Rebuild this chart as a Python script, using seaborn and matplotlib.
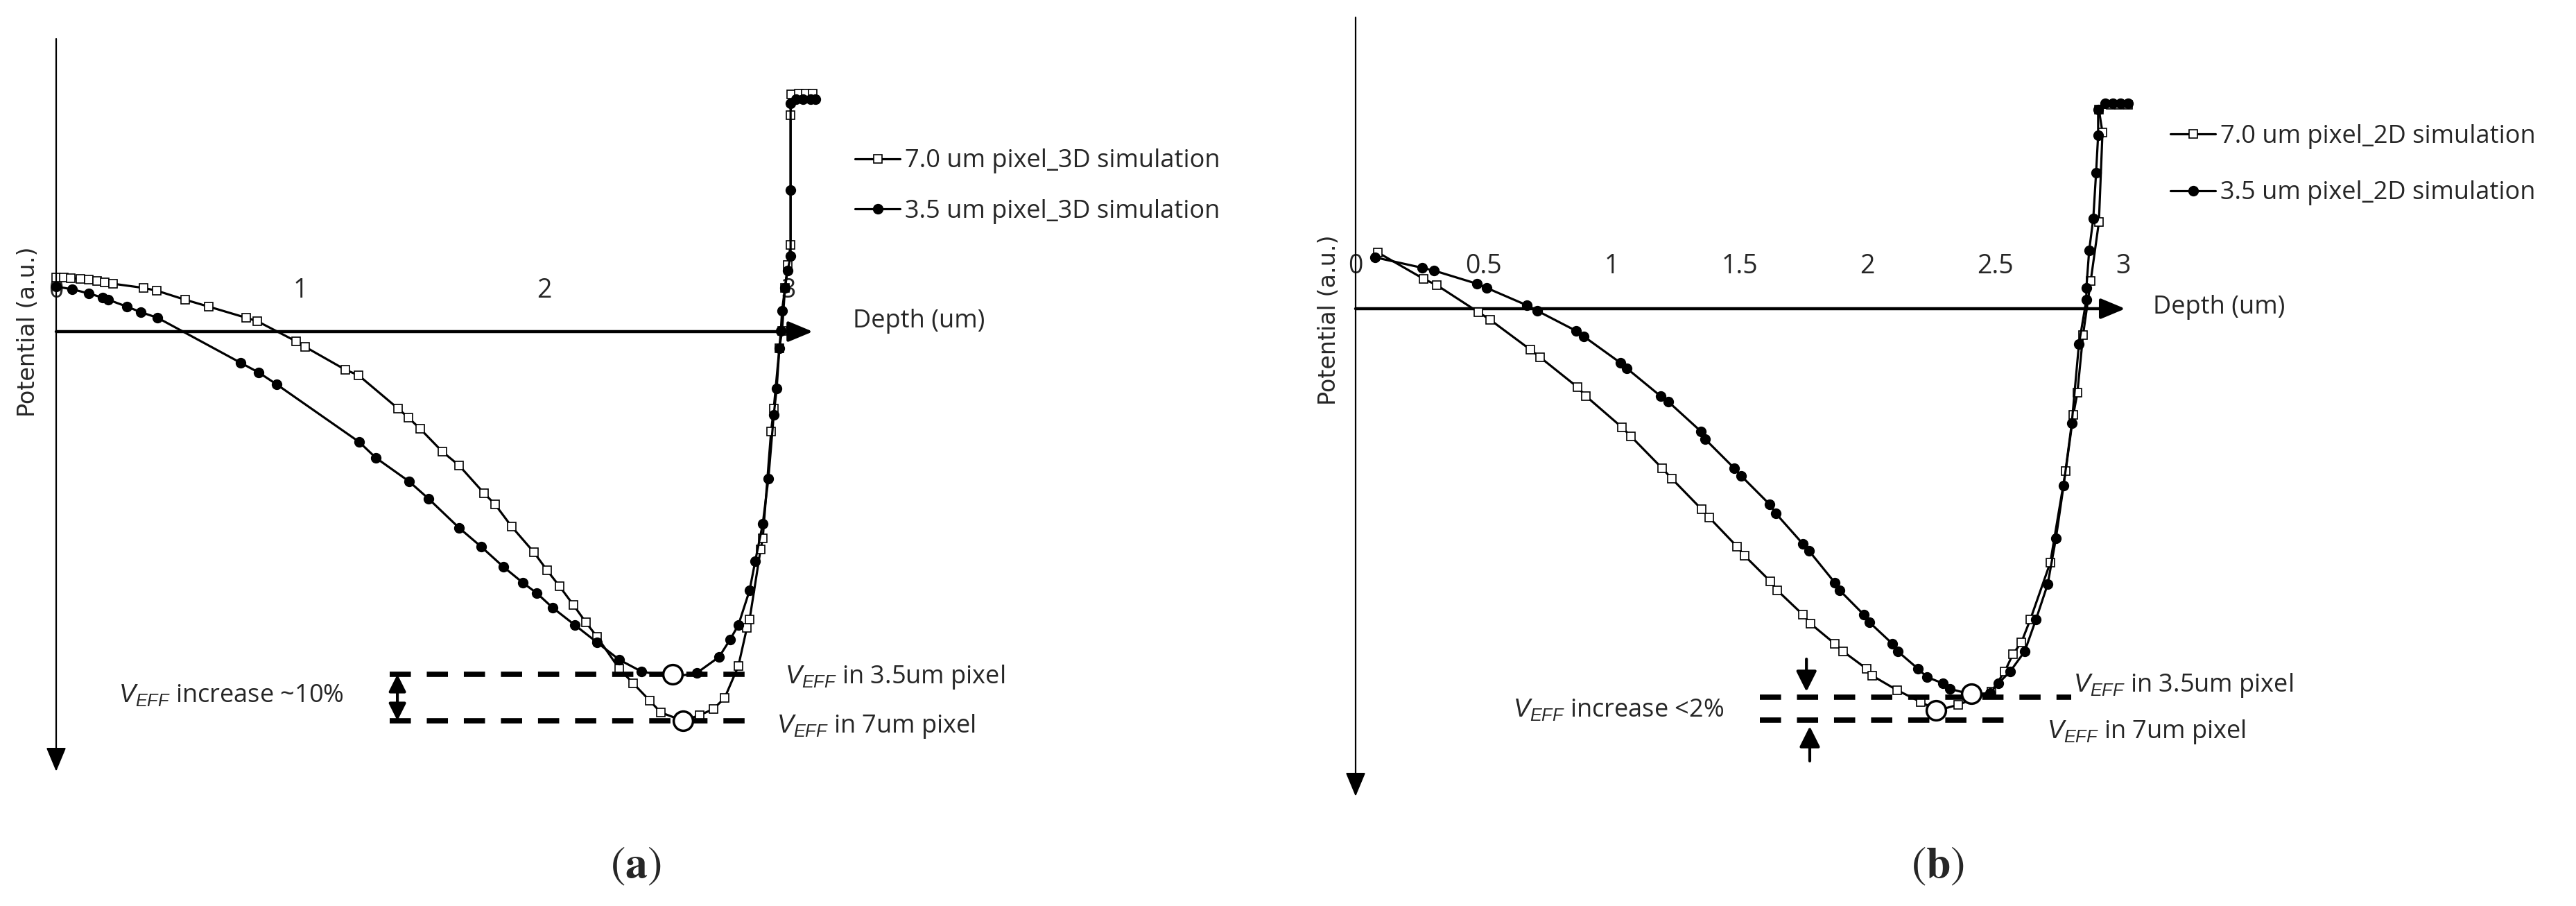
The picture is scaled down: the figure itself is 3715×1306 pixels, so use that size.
import matplotlib
matplotlib.use("Agg")
import matplotlib.pyplot as plt
import seaborn as sns

# ---- data (depth in um, potential in a.u., positive = down) ----
# panel (a): 3D simulation
depth_a_7um = [0.000, 0.030, 0.060, 0.100, 0.134, 0.168, 0.200, 0.233, 0.358, 0.412, 0.528,
               0.625, 0.778, 0.824, 0.983, 1.020, 1.185, 1.239, 1.401, 1.443, 1.491, 1.582,
               1.651, 1.753, 1.798, 1.866, 1.957, 2.011, 2.062, 2.119, 2.170, 2.216, 2.307,
               2.364, 2.432, 2.477, 2.568, 2.636, 2.693, 2.739, 2.795, 2.830, 2.841, 2.886,
               2.895, 2.929, 2.940, 2.963, 2.974, 2.986, 2.997, 3.009, 3.009, 3.012, 3.043,
               3.071, 3.099]
pot_a_7um = [-0.78, -0.78, -0.77, -0.76, -0.75, -0.73, -0.71, -0.69, -0.63, -0.59, -0.46,
             -0.36, -0.20, -0.15, 0.14, 0.22, 0.55, 0.63, 1.11, 1.24, 1.40, 1.73,
             1.93, 2.33, 2.49, 2.81, 3.18, 3.44, 3.67, 3.94, 4.19, 4.40, 4.86,
             5.07, 5.32, 5.49, 5.61, 5.53, 5.44, 5.28, 4.82, 4.27, 4.15, 3.14,
             2.98, 1.44, 1.11, 0.24, -0.01, -0.63, -0.96, -1.25, -3.12, -3.42, -3.43,
             -3.43, -3.43]

depth_a_35um = [0.000, 0.065, 0.134, 0.190, 0.213, 0.290, 0.347, 0.415, 0.756, 0.830, 0.903,
                1.241, 1.310, 1.446, 1.526, 1.651, 1.741, 1.832, 1.912, 1.969, 2.034, 2.125,
                2.216, 2.307, 2.398, 2.526, 2.625, 2.716, 2.761, 2.795, 2.841, 2.864, 2.895,
                2.918, 2.940, 2.952, 2.963, 2.969, 2.974, 2.986, 2.997, 3.009, 3.009, 3.009,
                3.031, 3.060, 3.090, 3.110]
pot_a_35um = [-0.65, -0.61, -0.55, -0.49, -0.46, -0.36, -0.28, -0.20, 0.45, 0.59, 0.76,
              1.59, 1.82, 2.16, 2.41, 2.83, 3.10, 3.39, 3.62, 3.77, 3.98, 4.23,
              4.48, 4.73, 4.90, 4.98, 4.92, 4.69, 4.44, 4.23, 3.73, 3.31, 2.77,
              2.12, 1.20, 0.82, 0.24, -0.01, -0.30, -0.63, -0.88, -1.09, -2.04, -3.29,
              -3.35, -3.35, -3.35, -3.35]

# panel (b): 2D simulation
depth_b_7um = [0.087, 0.266, 0.317, 0.480, 0.526, 0.683, 0.721, 0.867, 0.900, 1.041, 1.076,
               1.198, 1.236, 1.352, 1.382, 1.491, 1.520, 1.621, 1.648, 1.748, 1.778, 1.873,
               1.905, 1.997, 2.019, 2.117, 2.209, 2.274, 2.355, 2.485, 2.537, 2.569, 2.602,
               2.637, 2.715, 2.775, 2.805, 2.821, 2.843, 2.873, 2.905, 2.919, 2.905, 2.951,
               2.985, 3.019]
pot_b_7um = [-0.81, -0.43, -0.34, 0.05, 0.16, 0.59, 0.70, 1.13, 1.26, 1.71, 1.84,
             2.30, 2.45, 2.89, 3.01, 3.43, 3.56, 3.93, 4.06, 4.41, 4.54, 4.83,
             4.94, 5.19, 5.29, 5.50, 5.67, 5.79, 5.71, 5.52, 5.23, 4.98, 4.81,
             4.48, 3.66, 2.34, 1.53, 1.21, 0.38, -0.40, -1.25, -2.54, -2.87, -2.94,
             -2.94, -2.94]

depth_b_35um = [0.076, 0.260, 0.306, 0.474, 0.512, 0.669, 0.710, 0.862, 0.892, 1.035, 1.060,
                1.192, 1.222, 1.350, 1.366, 1.480, 1.507, 1.618, 1.642, 1.748, 1.772, 1.873,
                1.892, 1.986, 2.008, 2.098, 2.119, 2.198, 2.233, 2.295, 2.322, 2.407, 2.480,
                2.512, 2.558, 2.615, 2.659, 2.705, 2.737, 2.767, 2.799, 2.827, 2.856, 2.856,
                2.867, 2.883, 2.894, 2.902, 2.902, 2.930, 2.960, 2.990, 3.019]
pot_b_35um = [-0.74, -0.59, -0.55, -0.36, -0.30, -0.05, 0.03, 0.32, 0.40, 0.78, 0.86,
              1.26, 1.34, 1.77, 1.88, 2.30, 2.41, 2.82, 2.95, 3.39, 3.49, 3.95,
              4.06, 4.41, 4.52, 4.83, 4.94, 5.19, 5.31, 5.40, 5.48, 5.56, 5.54,
              5.40, 5.23, 4.94, 4.48, 3.97, 3.31, 2.55, 1.65, 0.51, -0.13, -0.30,
              -0.84, -1.30, -1.96, -2.50, -2.87, -2.96, -2.96, -2.96, -2.96]

# V_EFF markers (open circles) and levels (dashed lines): [3.5 um, 7 um]
veff_a_depth = [2.526, 2.568]
veff_a_pot = [4.94, 5.61]
veff_b_depth = [2.407, 2.268]
veff_b_pot = [5.55, 5.79]
veff_b_lines = [5.60, 5.93]

ticks_a = [0, 1, 2, 3]
ticks_b = [0, 0.5, 1, 1.5, 2, 2.5, 3]
tick_labels_b = ["0", "0.5", "1", "1.5", "2", "2.5", "3"]

labels_a = ["7.0 um pixel_3D simulation", "3.5 um pixel_3D simulation"]
labels_b = ["7.0 um pixel_2D simulation", "3.5 um pixel_2D simulation"]

# ---- style ----
sns.set_style("white")
plt.rcParams["font.family"] = ["Open Sans", "DejaVu Sans"]
plt.rcParams["mathtext.fontset"] = "custom"
plt.rcParams["mathtext.it"] = "Liberation Sans:italic"
plt.rcParams["mathtext.rm"] = "Liberation Sans"

W, H = 3715, 1306
fig = plt.figure(figsize=(W / 100, H / 100), dpi=100)

def make_axes(px_left, px_right, x0_px, x_scale, y0_px, y_scale):
    ax = fig.add_axes([px_left / W, 0, (px_right - px_left) / W, 1])
    ax.set_xlim((px_left - x0_px) / x_scale, (px_right - x0_px) / x_scale)
    ax.set_ylim((H - y0_px) / y_scale, -y0_px / y_scale)
    return ax

sq_kw = dict(color="black", lw=2.3, marker="s", markersize=8.5, markerfacecolor="white",
             markeredgecolor="black", markeredgewidth=1.2)
ci_kw = dict(color="black", lw=2.3, marker="o", markersize=10, markerfacecolor="black",
             markeredgecolor="black", markeredgewidth=1)
arrow_kw = dict(arrowstyle="-|>,head_length=0.6,head_width=0.25", color="black",
                mutation_scale=36, shrinkA=0, shrinkB=0)


def draw_panel(ax, d7, p7, d35, p35, labels, y_top, y_bot, x_end):
    sns.lineplot(x=d7, y=p7, sort=False, estimator=None, ax=ax, label=labels[0], zorder=2, **sq_kw)
    sns.lineplot(x=d35, y=p35, sort=False, estimator=None, ax=ax, label=labels[1], zorder=2, **ci_kw)
    ax.axis("off")
    # axes with arrows
    ax.annotate("", xy=(0, y_bot), xytext=(0, y_top),
                arrowprops=dict(arrow_kw, lw=1.6))
    ax.annotate("", xy=(x_end, 0), xytext=(0, 0),
                arrowprops=dict(arrow_kw, lw=3.2), zorder=1)


# ---- panel (a) ----
ax1 = make_axes(0, 1860, 81, 352, 478, 100)
draw_panel(ax1, depth_a_7um, pot_a_7um, depth_a_35um, pot_a_35um, labels_a, -4.22, 6.34, 3.10)
for t in ticks_a:
    ax1.text(t, -0.59, str(t), fontsize=27, ha="center", va="center", zorder=0)
ax1.text(3.264, -0.15, "Depth (um)", fontsize=26, ha="left", va="center")
ax1.text(-0.115, 0.0, "Potential (a.u.)", rotation=90, fontsize=24, family="DejaVu Sans",
         ha="center", va="center")
ax1.hlines(veff_a_pot, 1.366, 2.838, colors="black", lw=5.5, linestyles=(0, (4, 3)), zorder=3)
ax1.annotate("", xy=(1.398, veff_a_pot[0]), xytext=(1.398, veff_a_pot[1]),
             arrowprops=dict(arrowstyle="<|-|>,head_length=0.5,head_width=0.25", lw=3,
                             color="black", mutation_scale=30, shrinkA=0, shrinkB=0))
ax1.plot(veff_a_depth, veff_a_pot, ls="none", marker="o", markersize=20, markerfacecolor="white",
         markeredgecolor="black", markeredgewidth=2.5, zorder=4)
ax1.text(0.256, 5.25, r"$V_{EFF}$ increase ~10%", fontsize=26, ha="left", va="center")
ax1.text(2.986, 4.98, r"$V_{EFF}$ in 3.5um pixel", fontsize=26, ha="left", va="center")
ax1.text(2.952, 5.69, r"$V_{EFF}$ in 7um pixel", fontsize=26, ha="left", va="center")
ax1.text(2.375, 7.70, r"$(\mathbf{a})$", fontsize=46, ha="center", va="center", math_fontfamily="stix")
ax1.legend(loc="center left", bbox_to_anchor=(1233 / W, 1 - 268.5 / H), bbox_transform=fig.transFigure,
           frameon=False, fontsize=26, handlelength=1.8, handletextpad=0.2, labelspacing=1.0,
           borderpad=0, borderaxespad=0)

# ---- panel (b) ----
ax2 = make_axes(1860, W, 1955, 369, 445, 100)
draw_panel(ax2, depth_b_7um, pot_b_7um, depth_b_35um, pot_b_35um, labels_b, -4.20, 7.03, 3.008)
for t, lab in zip(ticks_b, tick_labels_b):
    ax2.text(t, -0.61, lab, fontsize=27, ha="center", va="center", zorder=0)
ax2.text(3.117, -0.02, "Depth (um)", fontsize=26, ha="left", va="center")
ax2.text(-0.105, 0.16, "Potential (a.u.)", rotation=90, fontsize=24, family="DejaVu Sans",
         ha="center", va="center")
ax2.hlines(veff_b_lines[0], 1.580, 2.797, colors="black", lw=5.5, linestyles=(0, (4, 3)), zorder=3)
ax2.hlines(veff_b_lines[1], 1.580, 2.547, colors="black", lw=5.5, linestyles=(0, (4, 3)), zorder=3)
small_arrow = dict(arrowstyle="-|>,head_length=0.6,head_width=0.3", lw=3, color="black",
                   mutation_scale=30, shrinkA=0, shrinkB=0)
ax2.annotate("", xy=(1.762, 5.52), xytext=(1.762, 5.05), arrowprops=small_arrow)
ax2.annotate("", xy=(1.775, 6.02), xytext=(1.775, 6.52), arrowprops=small_arrow)
ax2.plot(veff_b_depth, veff_b_pot, ls="none", marker="o", markersize=20, markerfacecolor="white",
         markeredgecolor="black", markeredgewidth=2.5, zorder=4)
ax2.text(0.615, 5.79, r"$V_{EFF}$ increase <2%", fontsize=26, ha="left", va="center")
ax2.text(2.805, 5.43, r"$V_{EFF}$ in 3.5um pixel", fontsize=26, ha="left", va="center")
ax2.text(2.702, 6.10, r"$V_{EFF}$ in 7um pixel", fontsize=26, ha="left", va="center")
ax2.text(2.276, 8.03, r"$(\mathbf{b})$", fontsize=46, ha="center", va="center", math_fontfamily="stix")
ax2.legend(loc="center left", bbox_to_anchor=(3130 / W, 1 - 237.5 / H), bbox_transform=fig.transFigure,
           frameon=False, fontsize=26, handlelength=1.8, handletextpad=0.2, labelspacing=1.26,
           borderpad=0, borderaxespad=0)

fig.savefig("out.png", dpi=100, facecolor="white")
